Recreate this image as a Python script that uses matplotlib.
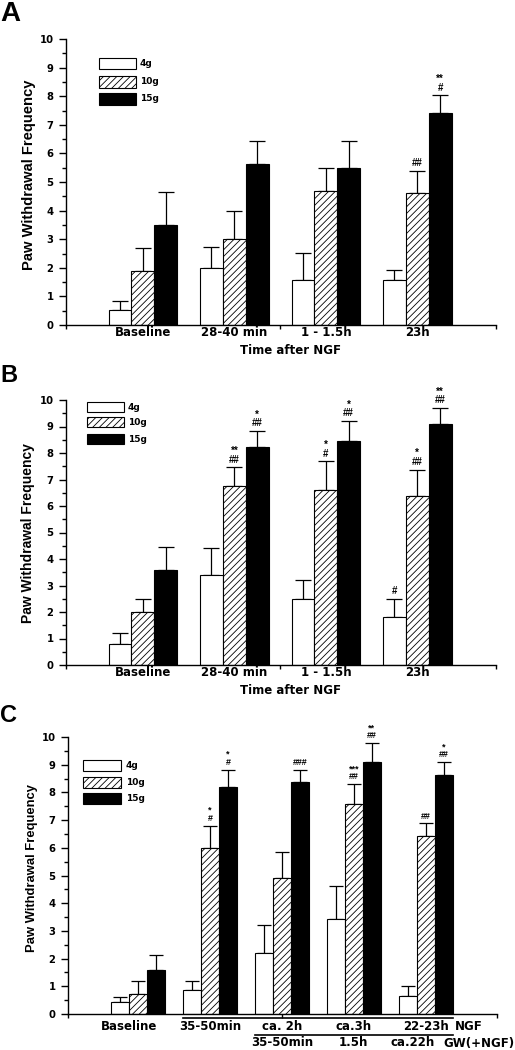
import numpy as np
import matplotlib
matplotlib.use("Agg")
import matplotlib.pyplot as plt
from matplotlib.patches import Rectangle
from matplotlib.transforms import blended_transform_factory

# ---- data ----
forces = ["4g", "10g", "15g"]

groups_ab = ["Baseline", "28-40 min", "1 - 1.5h", "23h"]

a_4g = [0.54, 2.0, 1.56, 1.56]
a_4g_err = [0.31, 0.72, 0.95, 0.37]
a_10g = [1.9, 3.0, 4.68, 4.63]
a_10g_err = [0.8, 1.0, 0.8, 0.75]
a_15g = [3.5, 5.63, 5.5, 7.43]
a_15g_err = [1.16, 0.82, 0.92, 0.6]
a_notes = [["", "", "", ""], ["", "", "", "##"], ["", "", "", "**\n#"]]

b_4g = [0.8, 3.39, 2.5, 1.81]
b_4g_err = [0.41, 1.02, 0.72, 0.68]
b_10g = [2.0, 6.76, 6.6, 6.39]
b_10g_err = [0.5, 0.7, 1.08, 0.98]
b_15g = [3.57, 8.22, 8.45, 9.11]
b_15g_err = [0.89, 0.6, 0.75, 0.58]
b_notes = [["", "", "", "#"], ["", "**\n##", "*\n#", "*\n##"], ["", "*\n##", "*\n##", "**\n##"]]

groups_c = ["Baseline", "35-50min", "ca. 2h", "ca.3h", "22-23h"]
groups_c_gw = ["", "", "35-50min", "1.5h", "ca.22h"]

c_4g = [0.43, 0.88, 2.2, 3.43, 0.64]
c_4g_err = [0.18, 0.3, 1.0, 1.18, 0.37]
c_10g = [0.71, 5.99, 4.9, 7.58, 6.41]
c_10g_err = [0.47, 0.81, 0.95, 0.72, 0.47]
c_15g = [1.58, 8.21, 8.36, 9.09, 8.62]
c_15g_err = [0.54, 0.61, 0.45, 0.69, 0.48]
c_notes = [["", "", "", "", ""], ["", "*\n#", "", "***\n##", "##"], ["", "*\n#", "###", "**\n##", "*\n##"]]

# ---- styles ----
faces = ["white", "white", "black"]
hatches = [None, "/////", None]
offsets = [-0.25, 0.0, 0.25]
width = 0.25

plt.rcParams["hatch.linewidth"] = 0.6
plt.rcParams["font.family"] = ["DejaVu Sans"]
plt.rcParams["font.weight"] = "bold"

W, H = 515, 1050
fig = plt.figure(figsize=(W / 100, H / 100), dpi=100)


def px_box(left, top, right, bottom):
    return [left / W, 1 - bottom / H, (right - left) / W, (bottom - top) / H]


def draw_bars(ax, ncat, means, errs, notes, capsize, note_size):
    x = np.arange(1, ncat + 1)
    for k in range(3):
        xs = x + offsets[k]
        ax.bar(xs, means[k], width, color=faces[k], edgecolor="black",
               hatch=hatches[k], linewidth=0.8, zorder=2)
        ax.errorbar(xs, means[k], yerr=[np.zeros(ncat), errs[k]], fmt="none",
                    ecolor="black", elinewidth=0.9, capsize=capsize,
                    capthick=0.9, zorder=1)
        tops = np.array(means[k]) + np.array(errs[k])
        for xi, t, s in zip(xs, tops, notes[k]):
            if s:
                ax.annotate(s, (xi, t), xytext=(0, 2.0), textcoords="offset points",
                            ha="center", va="bottom", fontsize=note_size,
                            fontweight="bold", linespacing=0.85,
                            family=["Liberation Sans"])


def style_axes(ax, xlim, mid):
    ax.set_ylim(0, 10)
    ax.set_xlim(*xlim)
    ax.spines["top"].set_visible(False)
    ax.spines["right"].set_visible(False)
    for s in ["left", "bottom"]:
        ax.spines[s].set_linewidth(1.0)
    ax.set_yticks(range(11))
    ax.set_yticks(np.arange(0.5, 10, 1.0), minor=True)
    ax.set_xticks([xlim[0], mid, xlim[1]], minor=True)
    ax.tick_params(axis="y", which="major", direction="out", length=5, width=1,
                   labelsize=7.2, pad=4)
    ax.tick_params(axis="y", which="minor", direction="out", length=3, width=1)
    ax.tick_params(axis="x", which="minor", direction="out", length=3, width=1)
    for lab in ax.get_yticklabels():
        lab.set_fontweight("bold")


def draw_legend(left, right, tops, height, label_x):
    for k in range(3):
        r = Rectangle((left / W, 1 - (tops[k] + height) / H), (right - left) / W, height / H,
                      transform=fig.transFigure, facecolor=faces[k], edgecolor="black",
                      hatch=hatches[k], linewidth=0.8)
        fig.add_artist(r)
        fig.text(label_x / W, 1 - (tops[k] + height / 2) / H, forces[k],
                 fontsize=6.5, fontweight="bold", ha="left", va="center")


def ylabel(x, y, size):
    fig.text(x / W, 1 - y / H, "Paw Withdrawal Frequency", rotation=90,
             ha="center", va="center", fontsize=size, fontweight="bold",
             family=["Liberation Sans"])


# ---- panel A ----
axA = fig.add_axes(px_box(66, 39, 496, 325))
draw_bars(axA, 4, [a_4g, a_10g, a_15g], [a_4g_err, a_10g_err, a_15g_err], a_notes, 6, 7.0)
style_axes(axA, (0.16, 4.86), 2.5)
axA.set_xticks(np.arange(1, 5))
axA.set_xticklabels(groups_ab, fontsize=8.5, fontweight="bold")
axA.tick_params(axis="x", which="major", length=0, pad=1)
draw_legend(99, 136, [58, 76, 93], 11.5, 140)
ylabel(29, 175, 10.6)
fig.text(290 / W, 1 - 351 / H, "Time after NGF", ha="center", va="center",
         fontsize=8.5, fontweight="bold")
fig.text(0, 1 - 21 / H, "A", fontsize=20, fontweight="bold", va="baseline",
         family=["Liberation Sans"])

# ---- panel B ----
axB = fig.add_axes(px_box(66, 400, 496, 665))
draw_bars(axB, 4, [b_4g, b_10g, b_15g], [b_4g_err, b_10g_err, b_15g_err], b_notes, 6, 7.0)
style_axes(axB, (0.16, 4.86), 2.5)
axB.set_xticks(np.arange(1, 5))
axB.set_xticklabels(groups_ab, fontsize=8.5, fontweight="bold")
axB.tick_params(axis="x", which="major", length=0, pad=1)
draw_legend(87, 124, [402, 417, 434], 10, 128)
ylabel(28, 533, 10.0)
fig.text(290 / W, 1 - 690 / H, "Time after NGF", ha="center", va="center",
         fontsize=8.5, fontweight="bold")
fig.text(0, 1 - 382 / H, "B", fontsize=17, fontweight="bold", va="baseline",
         family=["Liberation Sans"])

# ---- panel C ----
axC = fig.add_axes(px_box(68, 737, 497, 1014))
draw_bars(axC, 5, [c_4g, c_10g, c_15g], [c_4g_err, c_10g_err, c_15g_err], c_notes, 5, 6.4)
style_axes(axC, (0.03, 5.99), 3.0)
axC.set_xticks([])
draw_legend(83, 121, [760, 777, 793], 11, 126)
ylabel(32, 868, 9.4)
fig.text(0, 1 - 722 / H, "C", fontsize=17, fontweight="bold", va="baseline",
         family=["Liberation Sans"])

trC = blended_transform_factory(axC.transData, fig.transFigure)
xc = np.arange(1, len(groups_c) + 1)
row1_y = 1 - 1027 / H
row2_y = 1 - 1043 / H
for xi, lab in zip(xc, groups_c):
    dx = -0.12 if lab == "Baseline" else 0.0
    axC.text(xi + dx, row1_y, lab, transform=trC, ha="center", va="center",
             fontsize=8.5, fontweight="bold")
for xi, lab in zip(xc, groups_c_gw):
    if lab:
        dx = -0.18 if lab == "ca.22h" else 0.0
        axC.text(xi + dx, row2_y, lab, transform=trC, ha="center", va="center",
                 fontsize=8.5, fontweight="bold")
axC.text(5.6, row1_y, "NGF", transform=trC, ha="center", va="center",
         fontsize=8.5, fontweight="bold")
axC.text(5.74, row2_y, "GW(+NGF)", transform=trC, ha="center", va="center",
         fontsize=8.5, fontweight="bold")
# bracket lines under the axis
axC.plot([2 - 1.5 * width, 5 + 1.5 * width], [1 - 1018 / H] * 2, transform=trC,
         color="black", lw=1.2, clip_on=False)
axC.plot([3 - 1.5 * width, 5 + 1.5 * width], [1 - 1035 / H] * 2, transform=trC,
         color="black", lw=1.2, clip_on=False)

fig.savefig("out.png", dpi=100)
